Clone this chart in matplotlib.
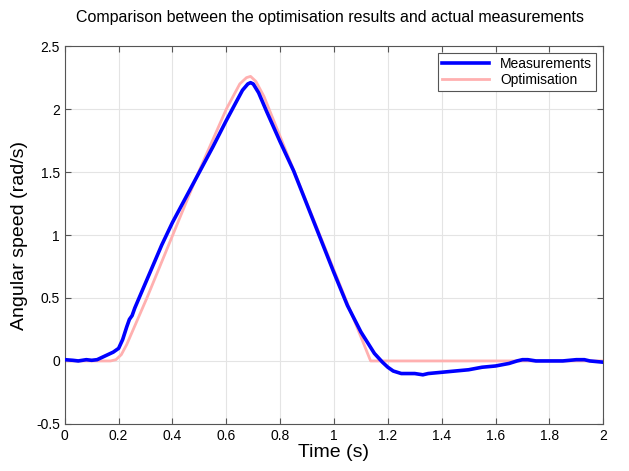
import numpy as np
import matplotlib.pyplot as plt

plt.rcParams['font.family'] = ['Liberation Sans', 'DejaVu Sans']

# measured angular speed
t_meas = [0.0, 0.03, 0.05, 0.08, 0.1, 0.12, 0.14, 0.16, 0.18, 0.2, 0.215, 0.23, 0.24, 0.25,
          0.26, 0.28, 0.3, 0.33, 0.36, 0.4, 0.45, 0.5, 0.55, 0.6, 0.63, 0.66, 0.68, 0.69,
          0.7, 0.72, 0.75, 0.8, 0.85, 0.9, 0.95, 1.0, 1.05, 1.1, 1.15, 1.18, 1.2, 1.22,
          1.25, 1.3, 1.33, 1.35, 1.4, 1.45, 1.5, 1.55, 1.6, 1.65, 1.68, 1.7, 1.72, 1.75,
          1.8, 1.85, 1.9, 1.93, 1.95, 2.0]
w_meas = [0.01, 0.005, 0.0, 0.01, 0.005, 0.01, 0.03, 0.05, 0.07, 0.1, 0.17, 0.27, 0.33, 0.36,
          0.42, 0.52, 0.62, 0.77, 0.92, 1.1, 1.3, 1.5, 1.7, 1.91, 2.03, 2.15, 2.2, 2.21,
          2.2, 2.13, 1.98, 1.74, 1.51, 1.24, 0.97, 0.7, 0.44, 0.23, 0.06, -0.01, -0.05, -0.08,
          -0.1, -0.1, -0.11, -0.1, -0.09, -0.08, -0.07, -0.05, -0.04, -0.02, 0.0, 0.01, 0.01, 0.0,
          0.0, 0.0, 0.01, 0.01, 0.0, -0.01]

# optimisation result
t_opt = [0.0, 0.17, 0.19, 0.21, 0.23, 0.305, 0.401, 0.497, 0.6, 0.65, 0.675, 0.69, 0.71,
         0.74, 1.136, 2.0]
w_opt = [0.0, 0.0, 0.01, 0.05, 0.13, 0.5, 1.0, 1.5, 2.0, 2.2, 2.25, 2.26, 2.22,
         2.1, 0.0, 0.0]

fig = plt.figure(figsize=(6.29, 4.71), dpi=100)
ax = fig.add_axes([0.103, 0.1, 0.856, 0.802])

ax.plot(t_meas, w_meas, color='#0000ff', linewidth=2.6, label='Measurements', zorder=3)
ax.plot(t_opt, w_opt, color='#ffb0b0', linewidth=2.0, label='Optimisation', zorder=2)

ax.set_xlim(0, 2)
ax.set_ylim(-0.5, 2.5)
ax.set_xticks(np.arange(0, 2.01, 0.2))
ax.set_xticklabels(['0', '0.2', '0.4', '0.6', '0.8', '1', '1.2', '1.4', '1.6', '1.8', '2'])
ax.set_yticks(np.arange(-0.5, 2.51, 0.5))
ax.set_yticklabels(['-0.5', '0', '0.5', '1', '1.5', '2', '2.5'])
ax.tick_params(direction='in', top=True, right=True, labelsize=10, length=4, color='#555555')
ax.grid(True, color='#e4e4e4', linewidth=0.8)
for s in ax.spines.values():
    s.set_color('#555555')

ax.set_xlabel('Time (s)', fontsize=14, labelpad=1)
ax.set_ylabel('Angular speed (rad/s)', fontsize=14, labelpad=6)
fig.suptitle('Comparison between the optimisation results and actual measurements',
             fontsize=11.5, x=0.525, y=0.978)

leg = ax.legend(loc='upper right', fontsize=10, fancybox=False, framealpha=1,
                edgecolor='#555555', handlelength=3.4, borderaxespad=0.5,
                borderpad=0.3, labelspacing=0.1)
leg.get_frame().set_linewidth(0.8)

fig.savefig('out.png', dpi=100)
